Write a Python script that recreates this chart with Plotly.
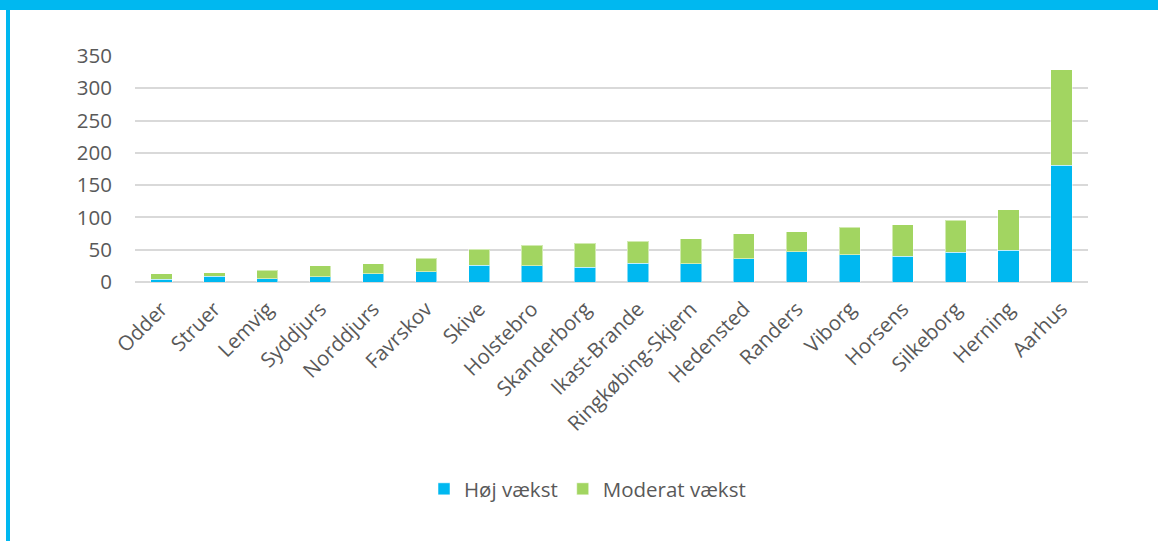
import plotly.graph_objects as go

kommuner = ["Odder", "Struer", "Lemvig", "Syddjurs", "Norddjurs", "Favrskov", "Skive",
            "Holstebro", "Skanderborg", "Ikast-Brande", "Ringkøbing-Skjern", "Hedensted",
            "Randers", "Viborg", "Horsens", "Silkeborg", "Herning", "Aarhus"]
hoej_vaekst = [4, 9, 5, 8, 13, 16, 26, 25, 23, 29, 28, 36, 47, 42, 40, 46, 49, 181]
moderat_vaekst = [9, 5, 13, 17, 15, 21, 25, 32, 37, 34, 39, 39, 31, 43, 49, 50, 63, 148]
y_ticks = [0, 50, 100, 150, 200, 250, 300, 350]

BLUE = "#00B8F0"
GREEN = "#A2D561"
TEXT = "#595959"
FONT = "Open Sans"
FS = 20.5

W, H = 1158, 541
L, R, T, B = 135, 1088, 56, 282  # plot area in pixels


def px_x(px):
    return (px - L) / (R - L)


def px_y(py):
    return (B - py) / (B - T)


fig = go.Figure()
fig.add_trace(go.Bar(x=kommuner, y=hoej_vaekst, name="Høj vækst",
                     marker=dict(color=BLUE, line=dict(color="rgba(255,255,255,0.5)", width=1))))
fig.add_trace(go.Bar(x=kommuner, y=moderat_vaekst, name="Moderat vækst",
                     marker=dict(color=GREEN, line=dict(color="rgba(255,255,255,0.5)", width=1))))

fig.update_layout(
    width=W, height=H,
    barmode="stack", bargap=0.6,
    plot_bgcolor="white", paper_bgcolor="white",
    margin=dict(l=L, r=W - R, t=T, b=H - B, autoexpand=False),
    font=dict(family=FONT, color=TEXT, size=FS),
    legend=dict(orientation="h", x=px_x(424), xanchor="left", y=px_y(489), yanchor="middle",
                font=dict(size=FS, color=TEXT), itemwidth=30, traceorder="normal",
                bgcolor="rgba(0,0,0,0)"),
    showlegend=True,
    xaxis=dict(tickangle=-45, showgrid=False, showline=False, ticks="",
               ticklabelstandoff=10, tickfont=dict(size=FS, color=TEXT)),
    yaxis=dict(range=[0, 350], tickvals=y_ticks, showgrid=True, gridcolor="#D9D9D9",
               gridwidth=1.5, zeroline=True, zerolinecolor="#D9D9D9", zerolinewidth=1.5,
               ticks="", ticklabelstandoff=22, tickfont=dict(size=FS, color=TEXT)),
    shapes=[
        dict(type="rect", xref="paper", yref="paper", layer="above",
             x0=px_x(0), x1=px_x(W), y0=px_y(10), y1=px_y(0),
             fillcolor=BLUE, line=dict(width=0)),
        dict(type="rect", xref="paper", yref="paper", layer="above",
             x0=px_x(6), x1=px_x(10), y0=px_y(H), y1=px_y(10),
             fillcolor=BLUE, line=dict(width=0)),
    ],
)

fig.write_html("out.html", config={"displayModeBar": False},
               post_script="document.body.style.margin='0';document.body.style.overflow='hidden';")
